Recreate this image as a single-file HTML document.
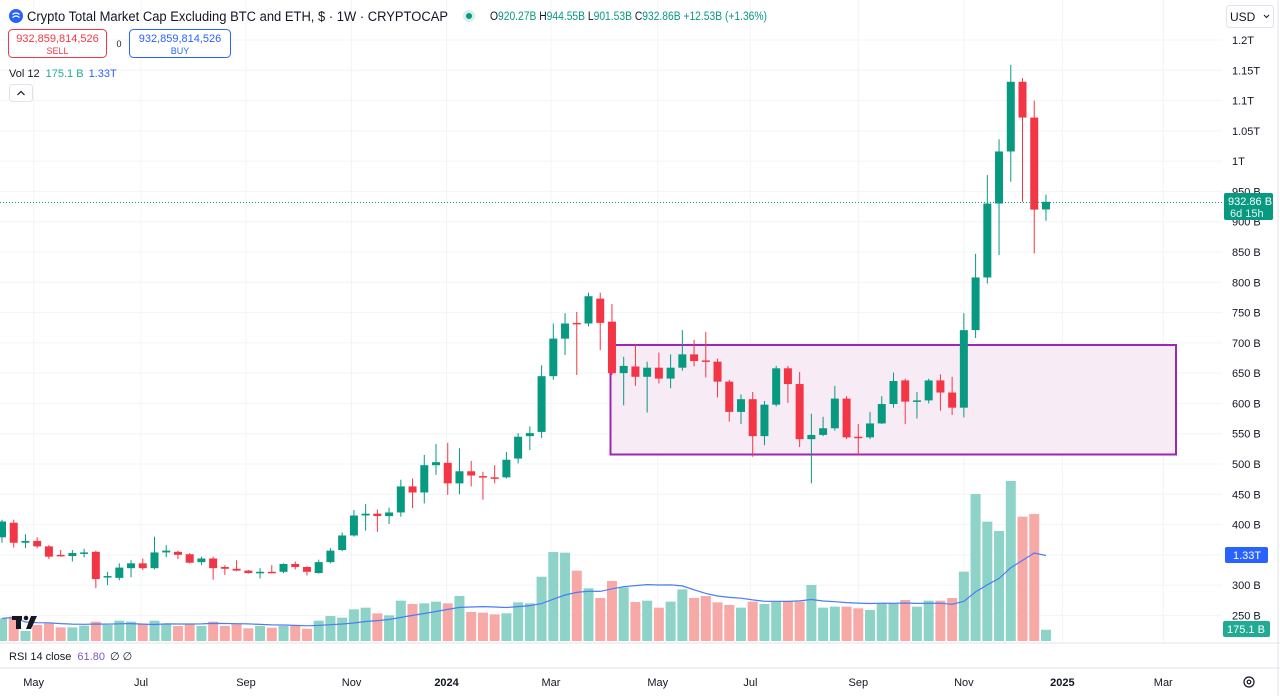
<!DOCTYPE html>
<html><head><meta charset="utf-8"><style>
html,body{margin:0;padding:0;background:#fff;}
body{width:1280px;height:696px;overflow:hidden;position:relative;font-family:"Liberation Sans",sans-serif;color:#131722;}
svg{position:absolute;left:0;top:0;}
.t{font-family:"Liberation Sans",sans-serif;}
</style></head><body>
<svg id="chart" width="1280" height="696" viewBox="0 0 1280 696" xmlns="http://www.w3.org/2000/svg">
<rect x="0" y="0" width="1280" height="696" fill="#ffffff"/>
<g id="grid"></g>
<rect x="610.5" y="345" width="565.5" height="109.5" fill="#f7ecf5" stroke="#9c27b0" stroke-width="2"/>
<g id="vol"></g>
<path id="vma" fill="none" stroke="#4c7cf3" stroke-width="1.2"/>
<g id="candles"></g>
<line x1="0" x2="1222" y1="202.5" y2="202.5" stroke="#089981" stroke-width="1" stroke-dasharray="1,2"/>
<g id="yaxis"></g>
<g id="xaxis"></g>
<line x1="0" x2="1280" y1="643" y2="643" stroke="#e0e3eb"/>
<line x1="0" x2="1280" y1="668" y2="668" stroke="#e0e3eb"/>
<line x1="1278" x2="1278" y1="0" y2="696" stroke="#e0e3eb"/>
<g>
<rect x="1224" y="193" width="49" height="27" rx="2" fill="#089981"/>
<text class="t" x="1228" y="205" font-size="11" fill="#fff">932.86 B</text>
<text class="t" x="1230" y="217" font-size="11" fill="#e8f5f2">6d 15h</text>
</g>
<g>
<rect x="1225" y="547" width="43" height="16" rx="2" fill="#2962ff"/>
<text class="t" x="1233" y="559" font-size="11" fill="#fff">1.33T</text>
</g>
<g>
<rect x="1223" y="621" width="47" height="16" rx="2" fill="#22ab94"/>
<text class="t" x="1227" y="633" font-size="11" fill="#fff">175.1 B</text>
</g>
<g>
<rect x="12" y="616" width="10" height="4" fill="#131722"/>
<rect x="16" y="616" width="5" height="13" fill="#131722"/>
<circle cx="26" cy="618" r="2.3" fill="#131722"/>
<polygon points="31,616 37,616 31,629 26,629" fill="#131722"/>
</g>
<g>
<circle cx="16" cy="16" r="7" fill="#2962ff"/>
<path d="M12.5 14.5 q3.5 -3 7 0 M12.5 17.5 q3.5 -3 7 0" stroke="#fff" stroke-width="1.3" fill="none"/>
<text class="t" x="27" y="21" font-size="13.5" fill="#131722" textLength="421" lengthAdjust="spacingAndGlyphs">Crypto Total Market Cap Excluding BTC and ETH, $ · 1W · CRYPTOCAP</text>
<circle cx="469" cy="16" r="6" fill="#d6efea"/><circle cx="469" cy="16" r="3" fill="#089981"/>
<text class="t" x="490" y="20" font-size="11.5" fill="#089981" textLength="277" lengthAdjust="spacingAndGlyphs"><tspan fill="#131722">O</tspan>920.27B <tspan fill="#131722">H</tspan>944.55B <tspan fill="#131722">L</tspan>901.53B <tspan fill="#131722">C</tspan>932.86B +12.53B (+1.36%)</text>
</g>
<g>
<rect x="8.5" y="29.5" width="98" height="28" rx="4" fill="#fff" stroke="#f23645"/>
<text class="t" x="57.5" y="42" font-size="11" fill="#f23645" text-anchor="middle">932,859,814,526</text>
<text class="t" x="57.5" y="54" font-size="9" fill="#f23645" text-anchor="middle">SELL</text>
</g>
<text class="t" x="119" y="47" font-size="9" fill="#131722" text-anchor="middle">0</text>
<g>
<rect x="129.5" y="29.5" width="101" height="28" rx="4" fill="#fff" stroke="#2962ff"/>
<text class="t" x="180" y="42" font-size="11" fill="#2962ff" text-anchor="middle">932,859,814,526</text>
<text class="t" x="180" y="54" font-size="9" fill="#2962ff" text-anchor="middle">BUY</text>
</g>
<text class="t" x="9" y="77" font-size="11" fill="#131722">Vol 12 <tspan fill="#22ab94" dx="3">175.1 B</tspan><tspan fill="#2962ff" dx="5">1.33T</tspan></text>
<g>
<rect x="9.5" y="84.5" width="23" height="17" rx="3" fill="#fff" stroke="#e0e3eb"/>
<path d="M17.5 95 l3.5 -3.5 l3.5 3.5" stroke="#131722" stroke-width="1.2" fill="none"/>
</g>
<g>
<rect x="1226.5" y="5.5" width="47" height="22" rx="3" fill="#fff" stroke="#e0e3eb"/>
<text class="t" x="1230" y="21" font-size="12" fill="#131722">USD</text>
<path d="M1264 15 l2.5 2.5 l2.5 -2.5" stroke="#131722" stroke-width="1" fill="none"/>
</g>
<text class="t" x="9" y="660" font-size="11" fill="#131722">RSI 14 close <tspan fill="#7e57c2" dx="3">61.80</tspan><tspan dx="5">∅ ∅</tspan></text>
<g>
<circle cx="1249" cy="682" r="5" fill="none" stroke="#131722" stroke-width="1.2"/>
<circle cx="1249" cy="682" r="1.8" fill="none" stroke="#131722" stroke-width="1.2"/>
</g>
</svg>
<script>
const opens=[379,403,370,373,364,350,348,353,355,313,312,328,336,328,354,355,351,338,344,330,327,324,320,322,322,335,330,320,338,358,382,415,418,414,420,463,453,498,502,468,488,480,478,478,509,546,553,645,707,733,732,773,735,650,661,644,659,641,659,681,671,669,636,586,607,546,598,658,632,541,548,559,608,545,544,567,599,638,603,605,638,618,593,721,808,930,1016,1131,1072,920.27];
const highs=[408,408,384,379,366,358,358,360,357,322,336,341,344,380,366,357,353,347,347,333,341,325,328,333,336,339,331,342,361,387,424,434,425,428,474,476,515,533,535,526,505,487,498,520,551,562,663,732,749,751,783,783,764,677,698,669,684,681,721,705,718,674,639,615,619,604,662,662,652,583,578,629,612,566,586,612,651,641,619,641,648,644,749,847,977,1036,1159,1137,1100,944.55];
const lows=[370,362,361,361,343,347,339,346,295,300,308,313,325,326,346,343,336,333,309,317,323,319,311,320,320,326,316,319,336,356,380,390,388,401,413,427,435,482,449,450,463,441,468,476,501,523,543,639,680,647,727,688,647,597,629,585,633,625,654,661,643,610,570,566,512,531,595,601,528,468,546,555,541,515,541,566,593,566,575,600,588,581,577,708,798,845,966,933,848,901.53];
const closes=[405,370,373,364,347,348,353,354,310,315,329,336,328,354,357,350,337,344,328,327,324,320,322,321,335,330,322,338,357,382,415,418,414,420,463,453,498,503,468,488,481,478,477,507,545,551,645,707,732,731,777,733,650,662,644,659,641,659,681,670,669,636,586,607,546,598,658,632,541,548,559,608,544,544,567,599,637,603,605,638,618,593,721,808,930,1016,1131,1072,920,932.86];
const volumes=[354,380,156,250,276,213,213,239,302,250,317,302,260,317,265,234,265,234,302,234,265,198,234,208,234,239,192,317,390,364,494,520,432,400,629,577,588,614,588,702,452,442,416,432,603,588,1003,1388,1378,1097,822,671,936,837,608,629,520,614,806,671,702,603,562,520,614,577,614,614,614,874,520,536,536,510,484,588,588,640,536,629,629,671,1082,2293,1862,1716,2496,1940,1981,175.1];
const priceTicks=[1200,1150,1100,1050,1000,950,900,850,800,750,700,650,600,550,500,450,400,350,300,250];
const timeLabels=["May","Jul","Sep","Nov","2024","Mar","May","Jul","Sep","Nov","2025","Mar"];
const timeTickIdx=[3.7,12.85,21.8,30.8,38.9,47.8,56.9,64.8,74,83,91.4,100];
const volMaLen=12;

const NS="http://www.w3.org/2000/svg";
function xOf(i){return 2+i*11.73;}
function yOf(v){return 464-(v-500)*0.6057;}
function yVol(v){return 641-v/15.6;}
function mk(tag,attrs,parent){const e=document.createElementNS(NS,tag);for(const k in attrs)e.setAttribute(k,attrs[k]);parent.appendChild(e);return e;}
function fmt(v){return v>=1000?(v/1000)+'T':v+' B';}

const grid=document.getElementById('grid');
priceTicks.forEach(v=>{mk('line',{x1:0,x2:1222,y1:yOf(v),y2:yOf(v),stroke:'#f3f4f7'},grid);});
timeTickIdx.forEach(t=>{mk('line',{x1:xOf(t-1),x2:xOf(t-1),y1:0,y2:643,stroke:'#f3f4f7'},grid);});

const yaxis=document.getElementById('yaxis');
priceTicks.forEach(v=>{
  const t=mk('text',{x:1232,y:yOf(v)+4,'font-size':11,fill:'#131722','class':'t'},yaxis);
  
  
  t.textContent=fmt(v);
});
const xaxis=document.getElementById('xaxis');
timeLabels.forEach((s,k)=>{
  const t=mk('text',{x:xOf(timeTickIdx[k]-1),y:686,'font-size':11,fill:'#131722','text-anchor':'middle','class':'t','font-weight':(s.length===4?'bold':'normal')},xaxis);
  
  
  t.textContent=s;
});

const vol=document.getElementById('vol');
volumes.forEach((v,i)=>{
  const up=closes[i]>=opens[i];
  const r=mk('rect',{x:xOf(i)-5,y:yVol(v),width:10,height:641-yVol(v),fill:up?'#8ed3c7':'#f7a9a7'},vol);
  
  
});
let d='';
volumes.forEach((v,i)=>{
  const s=Math.max(0,i-volMaLen+1);let sum=0;for(let j=s;j<=i;j++)sum+=volumes[j];
  const m=sum/(i-s+1);
  d+=(i?'L':'M')+xOf(i).toFixed(1)+' '+yVol(m).toFixed(1);
});
document.getElementById('vma').setAttribute('d',d);

const cg=document.getElementById('candles');
opens.forEach((o,i)=>{
  const c=closes[i],up=c>=o,col=up?'#089981':'#f23645',x=xOf(i);
  const g=mk('g',{},cg);
  
  
  mk('line',{x1:x,x2:x,y1:yOf(highs[i]),y2:yOf(lows[i]),stroke:col,'stroke-width':1},g);
  const top=yOf(Math.max(o,c)),bot=yOf(Math.min(o,c));
  mk('rect',{x:x-4,y:top,width:8,height:Math.max(1.5,bot-top),fill:col},g);
});
</script>
</body></html>
